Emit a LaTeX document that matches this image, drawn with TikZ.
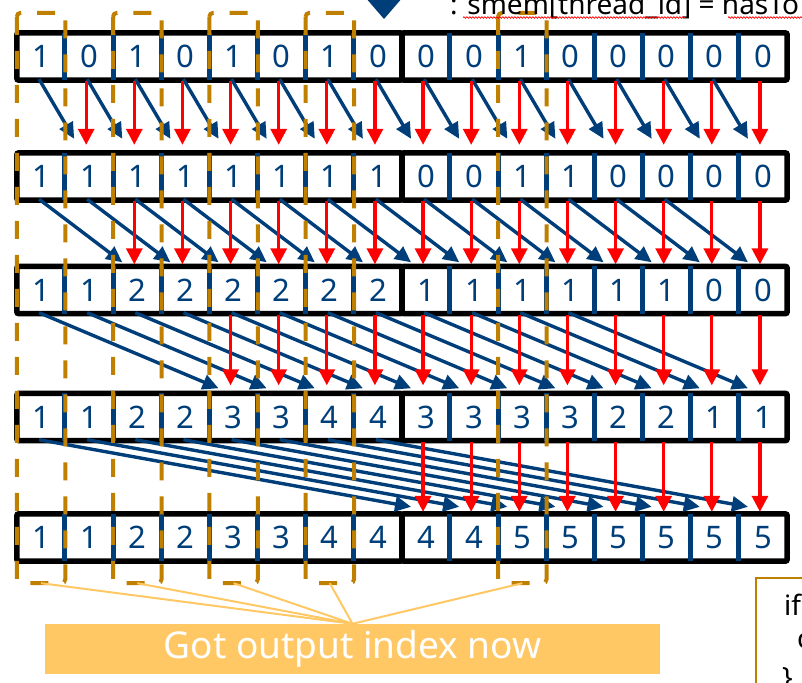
\documentclass[tikz,border=0pt]{standalone}
\usepackage{fontspec}
\setmainfont{Noto Sans}
\usetikzlibrary{arrows.meta,calc,decorations.pathmorphing}
\definecolor{scanblue}{RGB}{0,62,122}
\definecolor{scanred}{RGB}{255,0,0}
\definecolor{flagorange}{RGB}{191,127,0}
\definecolor{noteorange}{RGB}{255,200,100}

\tikzset{
  cell/.style={minimum width=48.125pt,minimum height=47pt,inner sep=0pt,text=scanblue,font=\fontsize{31}{31}\selectfont},
  frame/.style={line width=5.5pt,rounded corners=2pt},
  sep/.style={scanblue,line width=5pt},
  addarrow/.style={scanblue,line width=3.4pt,-{Triangle[length=16pt,width=15pt]}},
  keeparrow/.style={scanred,line width=3.2pt,-{Triangle[length=16pt,width=16pt]}},
  flagbox/.style={flagorange,line width=4pt,dash pattern=on 18pt off 16pt,rounded corners=4pt},
  link/.style={noteorange,line width=2pt},
  notebox/.style={fill=noteorange,text=white,minimum width=615pt,minimum height=50pt,inner sep=0pt,font=\fontsize{37}{37}\selectfont},
  codetext/.style={anchor=base west,inner sep=0pt,font=\fontsize{28}{28}\selectfont}
}

\begin{document}
\begin{tikzpicture}[x=1pt,y=-1pt]
  \useasboundingbox (0,0) rectangle (802,682);
  % scan rows
  \foreach \vals [count=\r] in {{1,0,1,0,1,0,1,0,0,0,1,0,0,0,0,0},{1,1,1,1,1,1,1,1,0,0,1,1,0,0,0,0},{1,1,2,2,2,2,2,2,1,1,1,1,1,1,0,0},{1,1,2,2,3,3,4,4,3,3,3,3,2,2,1,1},{1,1,2,2,3,3,4,4,4,4,5,5,5,5,5,5}} {
    \pgfmathsetmacro\yy{{56.5,176.5,290,417,537.5}[\r-1]}
    \foreach \v [count=\c from 0] in \vals
      \node[cell] (r\r-\c) at ({41.06+48.125*\c},\yy) {\v};
    \draw[frame] (r\r-0.north west) rectangle (r\r-7.south east);
    \draw[frame] (r\r-8.north west) rectangle (r\r-15.south east);
    \foreach \c in {1,...,7,9,10,...,15}
      \draw[sep] (r\r-\c.north west) -- (r\r-\c.south west);
  }
  % scan steps
  \foreach \d/\bg/\rg [count=\s] in {1/14/8,2/4/2,4/5/8,8/7/2} {
    \pgfmathtruncatemacro\t{\s+1}
    \pgfmathtruncatemacro\last{15-\d}
    \foreach \i in {0,...,\last} {
      \pgfmathtruncatemacro\j{\i+\d}
      \draw[addarrow] ($(r\s-\i.south)+(-2,-1)$) -- ($(r\t-\j.north)+(-15,-\bg)$);
    }
    \foreach \j in {\d,...,15}
      \draw[keeparrow] ($(r\s-\j.south)+(-3,1)$) -- ($(r\t-\j.north)+(-3,-\rg)$);
  }
  % flagged columns
  \foreach \c in {0,2,4,6,10} {
    \draw[flagbox] ($(r1-\c.north west)+(0,-20)$) rectangle ($(r5-\c.south east)+(0,22)$);
    \coordinate (flag\c) at ($(r5-\c.south)+(0,22)$);
  }
  \node[notebox] (note) at (352.5,649) {Got output index now};
  \foreach \c in {0,2,4,6,10}
    \draw[link] (flag\c) -- (note.north);
  % legend at the top
  \fill[scanblue] (365,-3) -- (403,-3) -- (384,19) -- cycle;
  \node[codetext] (legend) at (450,15) {: smem[thread\_id] = hasTo};
  \draw[scanred,line width=0.7pt,decorate,decoration={snake,amplitude=0.8pt,segment length=3pt}]
    ($(legend.base west)+(13,2.5)$) -- ($(legend.base west)+(235,2.5)$);
  \draw[scanred,line width=0.7pt,decorate,decoration={snake,amplitude=0.8pt,segment length=3pt}]
    ($(legend.base west)+(278,2.5)$) -- ($(legend.base west)+(360,2.5)$);
  % code box
  \draw[flagorange,line width=1.5pt] (756,578) rectangle (830,700);
  \node[codetext] (ifline) at (784,615) {if};
  \node[codetext] (bodyline) at (797,648) {c};
  \node[codetext] (closeline) at (782,687) {\}};
\end{tikzpicture}
\end{document}
